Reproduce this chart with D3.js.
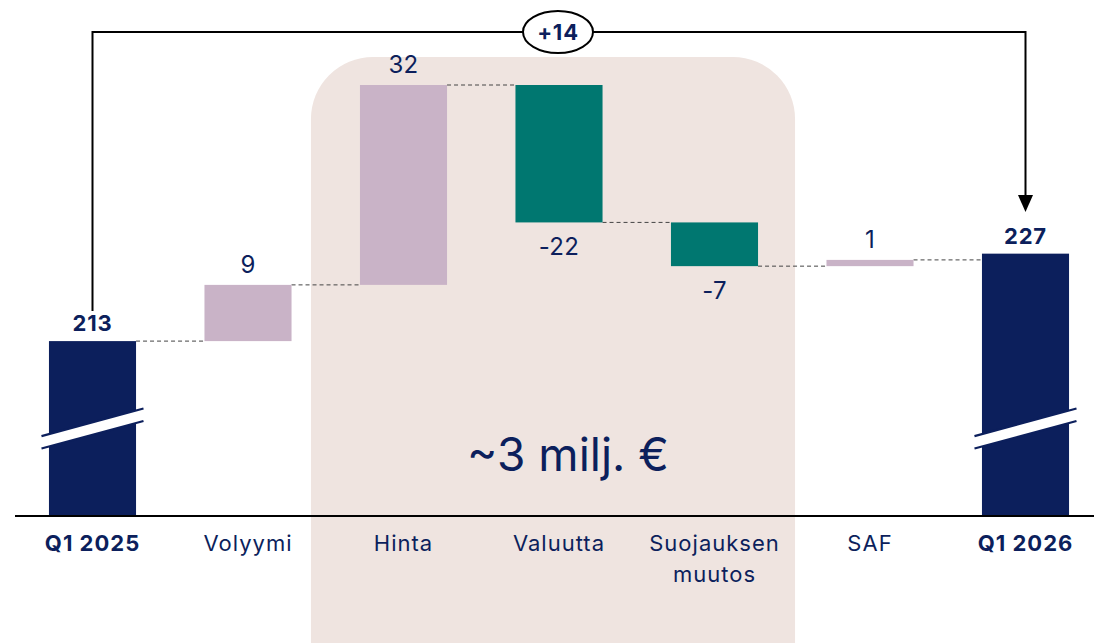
<!DOCTYPE html>
<html>
<head>
<meta charset="utf-8">
<script src="https://cdn.jsdelivr.net/npm/d3@7"></script>
<style>
  html, body { margin: 0; padding: 0; background: #fff; }
  svg { display: block; font-family: Inter, "Noto Sans", sans-serif; }
</style>
</head>
<body>
<div id="chart"></div>
<script>
var categories = ['Q1 2025', 'Volyymi', 'Hinta', 'Valuutta', 'Suojauksen\nmuutos', 'SAF', 'Q1 2026'];
var values = [213, 9, 32, -22, -7, 1, 227];
var kinds = ['total', 'delta', 'delta', 'delta', 'delta', 'delta', 'total'];
var valueLabels = ['213', '9', '32', '-22', '-7', '1', '227'];
var changeLabel = '+14';
var highlightText = '~3 milj. €';

var W = 1094, H = 643;
var navy = '#0c1f5c', pink = '#c9b3c7', teal = '#007770', bg = '#efe4e0';

// running totals for the waterfall
var rows = [];
var level = 0;
values.forEach(function (v, i) {
    var r = { name: categories[i], value: v, kind: kinds[i], label: valueLabels[i] };
    if (kinds[i] === 'total') { r.start = 0; r.end = v; level = v; }
    else { r.start = level; r.end = level + v; level = r.end; }
    rows.push(r);
});

var svg = d3.select('#chart').append('svg').attr('width', W).attr('height', H);

var x = d3.scaleBand().domain(categories).range([14.75, 1103.25])
    .paddingInner(0.44).paddingOuter(0.22);
var y = d3.scaleLinear().domain([185, 254]).range([516, 85]);
var bw = x.bandwidth();
var yOf = function (v) { return v === 0 ? y.range()[0] : y(v); };

// highlight panel behind the price / currency / hedge bars
svg.append('rect')
    .attr('x', x('Hinta') - 49)
    .attr('y', 57)
    .attr('width', x('Suojauksen\nmuutos') + bw + 37 - (x('Hinta') - 49))
    .attr('height', 700)
    .attr('rx', 62).attr('ry', 62)
    .attr('fill', bg);

svg.append('text')
    .attr('x', 568).attr('y', 471)
    .attr('text-anchor', 'middle')
    .attr('font-size', 46)
    .attr('fill', navy)
    .text(highlightText);

// dashed connectors
rows.forEach(function (r, i) {
    if (i === rows.length - 1) return;
    svg.append('line')
        .attr('x1', x(r.name) + bw).attr('x2', x(rows[i + 1].name))
        .attr('y1', y(r.end)).attr('y2', y(r.end))
        .attr('stroke', '#444').attr('stroke-width', 1)
        .attr('stroke-dasharray', '4,3');
});

// bars
svg.selectAll('rect.bar').data(rows).enter().append('rect')
    .attr('class', 'bar')
    .attr('x', function (d) { return x(d.name); })
    .attr('width', bw)
    .attr('y', function (d) { return Math.min(yOf(d.start), yOf(d.end)); })
    .attr('height', function (d) { return Math.abs(yOf(d.start) - yOf(d.end)); })
    .attr('fill', function (d) {
        if (d.kind === 'total') return navy;
        return d.value >= 0 ? pink : teal;
    });

// axis break on the total bars
var breakAt = 199;
rows.filter(function (d) { return d.kind === 'total'; }).forEach(function (d) {
    var cx = x(d.name) + bw / 2, cy = y(breakAt);
    var half = 51, rise = 13.8, gap = 6.2;
    var g = svg.append('g');
    g.append('polygon')
        .attr('points', [
            [cx - half, cy + rise - gap], [cx + half, cy - rise - gap],
            [cx + half, cy - rise + gap], [cx - half, cy + rise + gap]
        ].map(function (p) { return p.join(','); }).join(' '))
        .attr('fill', '#fff');
    [-gap, gap].forEach(function (o) {
        g.append('line')
            .attr('x1', cx - half).attr('y1', cy + rise + o)
            .attr('x2', cx + half).attr('y2', cy - rise + o)
            .attr('stroke', navy).attr('stroke-width', 2.2);
    });
});

// baseline
svg.append('line')
    .attr('x1', 15).attr('x2', W).attr('y1', 516).attr('y2', 516)
    .attr('stroke', '#000').attr('stroke-width', 2);

// value labels
svg.selectAll('text.val').data(rows).enter().append('text')
    .attr('class', 'val')
    .attr('x', function (d) { return x(d.name) + bw / 2; })
    .attr('y', function (d) {
        if (d.kind === 'total') return y(d.end) - 10;
        return d.value >= 0 ? y(d.end) - 12 : y(d.end) + 33;
    })
    .attr('text-anchor', 'middle')
    .attr('font-size', function (d) { return d.kind === 'total' ? 22 : 24; })
    .attr('letter-spacing', function (d) { return d.kind === 'total' ? 0.8 : 0.3; })
    .attr('font-weight', function (d) { return d.kind === 'total' ? 700 : 400; })
    .attr('fill', navy)
    .text(function (d) { return d.label; });

// category labels
svg.selectAll('text.cat').data(rows).enter().append('text')
    .attr('class', 'cat')
    .attr('x', function (d) { return x(d.name) + bw / 2; })
    .attr('y', 551)
    .attr('text-anchor', 'middle')
    .attr('font-size', 22)
    .attr('letter-spacing', 1)
    .attr('font-weight', function (d) { return d.kind === 'total' ? 700 : 400; })
    .attr('fill', navy)
    .each(function (d) {
        var t = d3.select(this);
        d.name.split('\n').forEach(function (line, k) {
            t.append('tspan').attr('x', x(d.name) + bw / 2).attr('dy', k ? 31 : 0).text(line);
        });
    });

// change bracket between the two totals
var first = rows[0], last = rows[rows.length - 1];
var lx = x(first.name) + bw / 2, rx = x(last.name) + bw / 2, topY = 32;
svg.append('path')
    .attr('d', 'M' + lx + ',' + (y(first.end) - 30) + 'V' + topY + 'H' + rx + 'V' + 196)
    .attr('fill', 'none').attr('stroke', '#000').attr('stroke-width', 2);
svg.append('path')
    .attr('d', 'M' + (rx - 7.5) + ',195L' + (rx + 7.5) + ',195L' + rx + ',212Z')
    .attr('fill', '#000');
svg.append('ellipse')
    .attr('cx', 558).attr('cy', topY).attr('rx', 35).attr('ry', 21)
    .attr('fill', '#fff').attr('stroke', '#000').attr('stroke-width', 2);
svg.append('text')
    .attr('x', 558).attr('y', topY + 8)
    .attr('text-anchor', 'middle')
    .attr('font-size', 22).attr('font-weight', 700)
    .attr('letter-spacing', 0.8)
    .attr('fill', navy)
    .text(changeLabel);
</script>
</body>
</html>
